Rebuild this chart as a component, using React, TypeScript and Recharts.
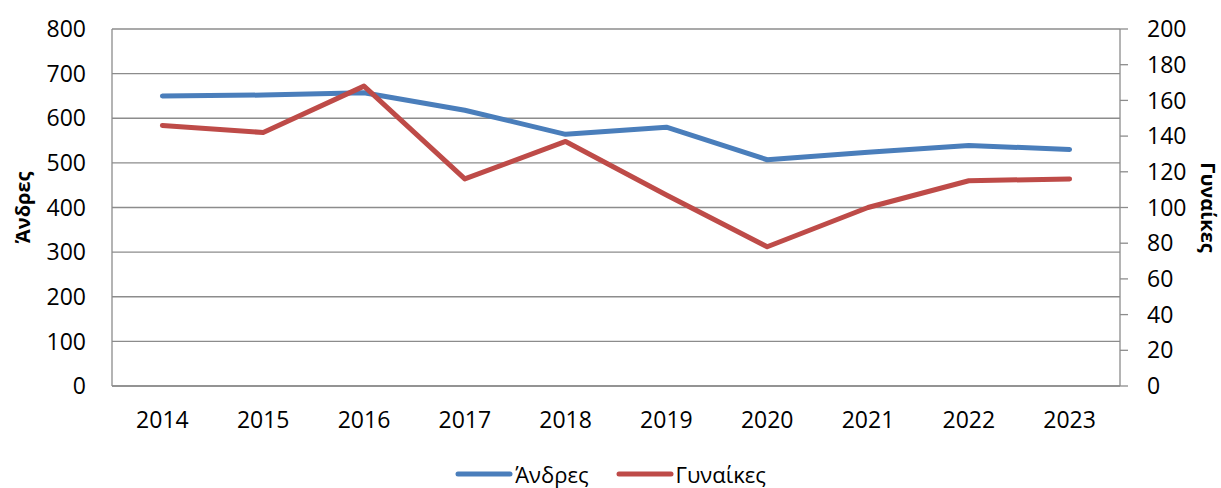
import { CartesianGrid, Legend, Line, LineChart, XAxis, YAxis } from 'recharts';

const years = ['2014', '2015', '2016', '2017', '2018', '2019', '2020', '2021', '2022', '2023'];
const men = [650, 652, 657, 618, 564, 580, 507, 524, 539, 530];
const women = [146, 142, 168, 116, 137, 107, 78, 100, 115, 116];
const menTicks = [0, 100, 200, 300, 400, 500, 600, 700, 800];
const womenTicks = [0, 20, 40, 60, 80, 100, 120, 140, 160, 180, 200];

const data = years.map((year, i) => ({ year, men: men[i], women: women[i] }));

const FONT = '"Open Sans", "Noto Sans", sans-serif';
const AXIS = '#8c8c8c';
const BLUE = '#4a7ebb';
const RED = '#be4b48';

const tickStyle = { fontSize: 23, fill: '#000', fontFamily: FONT };

interface LegendItem {
  value: string;
  color: string;
}

function ChartLegend({ payload }: { payload?: LegendItem[] }) {
  return (
    <div style={{ display: 'flex', justifyContent: 'center', alignItems: 'center', gap: 27, height: 24, fontFamily: FONT, fontSize: 22 }}>
      {(payload ?? []).map((p) => (
        <div key={p.value} style={{ display: 'flex', alignItems: 'center', gap: 2 }}>
          <svg width={58} height={8}>
            <line x1={3} y1={4} x2={55} y2={4} stroke={p.color} strokeWidth={5} strokeLinecap="round" />
          </svg>
          <span style={{ lineHeight: '24px' }}>{p.value}</span>
        </div>
      ))}
    </div>
  );
}

interface AxisTitleProps {
  viewBox?: { x: number; y: number; width: number; height: number };
  text: string;
  side: 'left' | 'right';
}

function AxisTitle({ viewBox, text, side }: AxisTitleProps) {
  if (!viewBox) return null;
  const cy = viewBox.y + viewBox.height / 2;
  const cx = side === 'left' ? viewBox.x + 22 : viewBox.x + viewBox.width - 13;
  const angle = side === 'left' ? -90 : 90;
  return (
    <text
      x={cx}
      y={cy}
      transform={`rotate(${angle} ${cx} ${cy})`}
      textAnchor="middle"
      dominantBaseline="central"
      fontFamily={FONT}
      fontWeight="bold"
      fontSize={20}
      fill="#000"
    >
      {text}
    </text>
  );
}

export default function App() {
  return (
    <div style={{ position: 'absolute', left: 0, top: 0 }}>
      <LineChart width={1221} height={488} data={data} margin={{ top: 29, right: 0, left: 0, bottom: 0 }}>
        <CartesianGrid yAxisId="left" vertical={false} stroke={AXIS} strokeWidth={1.3} />
        <XAxis
          dataKey="year"
          padding={{ left: 50.4, right: 50.4 }}
          tick={tickStyle}
          tickLine={false}
          tickSize={0}
          tickMargin={26}
          height={78}
          axisLine={{ stroke: AXIS, strokeWidth: 1.3 }}
        />
        <YAxis
          yAxisId="left"
          domain={[0, 800]}
          ticks={menTicks}
          width={112}
          tick={tickStyle}
          tickLine={false}
          tickSize={0}
          tickMargin={26}
          axisLine={{ stroke: AXIS, strokeWidth: 1.3 }}
          label={<AxisTitle text="Άνδρες" side="left" />}
        />
        <YAxis
          yAxisId="right"
          orientation="right"
          domain={[0, 200]}
          ticks={womenTicks}
          width={101}
          tick={{ ...tickStyle, textAnchor: 'start' }}
          tickLine={{ stroke: AXIS, strokeWidth: 1.3 }}
          tickSize={8}
          tickMargin={19}
          axisLine={{ stroke: AXIS, strokeWidth: 1.3 }}
          label={<AxisTitle text="Γυναίκες" side="right" />}
        />
        <Legend verticalAlign="bottom" content={<ChartLegend />} wrapperStyle={{ bottom: 2 }} />
        <Line
          yAxisId="left"
          dataKey="men"
          name="Άνδρες"
          stroke={BLUE}
          strokeWidth={5}
          strokeLinecap="round"
          strokeLinejoin="round"
          dot={false}
          activeDot={false}
          isAnimationActive={false}
        />
        <Line
          yAxisId="right"
          dataKey="women"
          name="Γυναίκες"
          stroke={RED}
          strokeWidth={5}
          strokeLinecap="round"
          strokeLinejoin="round"
          dot={false}
          activeDot={false}
          isAnimationActive={false}
        />
      </LineChart>
    </div>
  );
}
